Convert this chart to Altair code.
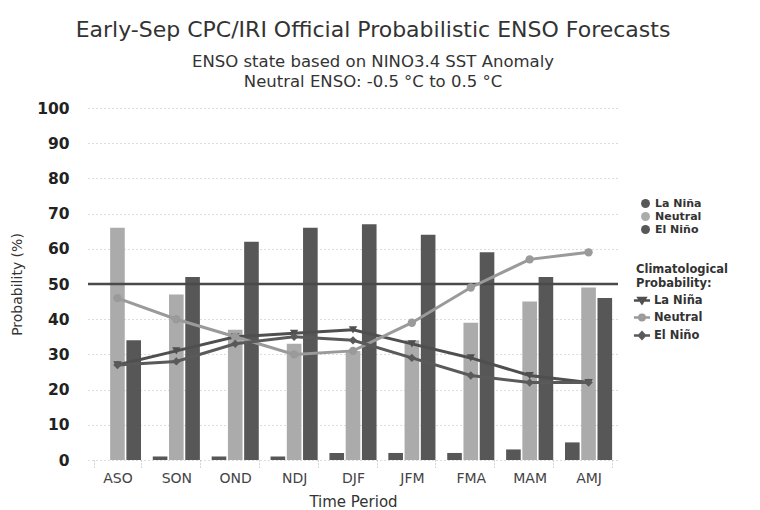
import altair as alt
import pandas as pd

periods = ["ASO", "SON", "OND", "NDJ", "DJF", "JFM", "FMA", "MAM", "AMJ"]
la_nina = [0, 1, 1, 1, 2, 2, 2, 3, 5]
neutral = [66, 47, 37, 33, 31, 34, 39, 45, 49]
el_nino = [34, 52, 62, 66, 67, 64, 59, 52, 46]
clim_la = [27, 31, 35, 36, 37, 33, 29, 24, 22]
clim_neu = [46, 40, 35, 30, 31, 39, 49, 57, 59]
clim_el = [27, 28, 33, 35, 34, 29, 24, 22, 22]
ref_level = [50]

cats = ["La Niña", "Neutral", "El Niño"]
bar_colors = ["#575757", "#ababab", "#575757"]
line_colors = ["#4f4f4f", "#9a9a9a", "#5a5a5a"]
marker_shapes = ["triangle-down", "circle", "diamond"]
legend_paths = [
    "M-1.8,0H1.8M-0.75,-0.55L0.75,-0.55L0,0.6Z",
    "M-1.8,0H1.8M0.6,0A0.6,0.6 0 1 1 -0.6,0A0.6,0.6 0 1 1 0.6,0Z",
    "M-1.8,0H1.8M0,-0.7L0.65,0L0,0.7L-0.65,0Z",
]

bars = pd.DataFrame(
    [{"period": p, "cat": c, "value": v}
     for c, vals in zip(cats, [la_nina, neutral, el_nino])
     for p, v in zip(periods, vals)]
)
lines = pd.DataFrame(
    [{"period": p, "clim": c, "value": v}
     for c, vals in zip(cats, [clim_la, clim_neu, clim_el])
     for p, v in zip(periods, vals)]
)
ref = pd.DataFrame({"value": ref_level})

FONT = "DejaVu Sans"

x = alt.X("period:N", sort=periods, title="Time Period",
          scale=alt.Scale(paddingInner=0.2, paddingOuter=0.1),
          axis=alt.Axis(labelAngle=0, labelFontSize=14, labelColor="#444",
                        titleFontSize=15, titleColor="#333", titleFontWeight="normal",
                        titlePadding=9, ticks=True, tickBand="extent", tickSize=8,
                        tickColor="#aaaaaa", tickDash=[1, 2], domain=False,
                        labelPadding=3, grid=False, labelFont=FONT, titleFont=FONT))
y = alt.Y("value:Q", title="Probability (%)",
          scale=alt.Scale(domain=[0, 100], nice=False),
          axis=alt.Axis(values=list(range(0, 101, 10)), labelOverlap=False,
                        labelFontSize=15.5, labelColor="#222", labelFontWeight="bold",
                        ticks=False, domain=False,
                        labelPadding=19, grid=True, gridColor="#bbbbbb",
                        gridDash=[1, 3], gridWidth=1,
                        titleFontSize=14, titleColor="#333", titleFontWeight="normal",
                        titlePadding=12, labelFont=FONT, titleFont=FONT))

bar_layer = alt.Chart(bars).mark_bar().encode(
    x=x,
    y=y,
    xOffset=alt.XOffset("cat:N", sort=cats, scale=alt.Scale(paddingInner=0.1)),
    fill=alt.Fill("cat:N", sort=cats,
                  scale=alt.Scale(domain=cats, range=bar_colors),
                  legend=alt.Legend(title=None, orient="none", legendX=552, legendY=90,
                                    symbolType="circle", symbolSize=80,
                                    labelFontSize=11, labelFontWeight="bold",
                                    labelColor="#333", labelFont=FONT, rowPadding=1)),
)

ref_layer = alt.Chart(ref).mark_rule(color="#4a4a4a", strokeWidth=2.5).encode(y=y)

line_layer = alt.Chart(lines).mark_line(strokeWidth=3).encode(
    x=x,
    y=y,
    stroke=alt.Stroke("clim:N", sort=cats,
                      scale=alt.Scale(domain=cats, range=line_colors), legend=None),
)

point_layers = [
    alt.Chart(lines).transform_filter(alt.datum.clim == c)
    .mark_point(filled=True, size=70, color=col, shape=shp, opacity=1)
    .encode(x=x, y=y)
    for c, col, shp in zip(cats, line_colors, marker_shapes)
]

legend_layer = alt.Chart(lines).mark_point(filled=False, opacity=0, strokeWidth=2.5).encode(
    x=x,
    y=y,
    color=alt.Color("clim:N", sort=cats, scale=alt.Scale(domain=cats, range=line_colors),
                    legend=alt.Legend(title=["Climatological", "Probability:"],
                                      orient="none", legendX=548, legendY=156,
                                      titleFontSize=11.5, titleFontWeight="bold",
                                      titleColor="#333", titleFont=FONT, titleLineHeight=14,
                                      labelFontSize=11.5, labelFontWeight="bold",
                                      labelColor="#333", labelFont=FONT,
                                      symbolSize=80, symbolStrokeWidth=2.5,
                                      symbolOpacity=1, rowPadding=1, labelOffset=6)),
    shape=alt.Shape("clim:N", sort=cats, scale=alt.Scale(domain=cats, range=legend_paths)),
)

chart = alt.layer(bar_layer, ref_layer, line_layer, *point_layers, legend_layer).resolve_scale(
    fill="independent", stroke="independent"
).properties(
    width=530,
    height=352,
    autosize=alt.AutoSizeParams(type="none"),
    padding={"left": 80, "top": 100, "right": 130, "bottom": 50},
    title=alt.Title(
        "Early-Sep CPC/IRI Official Probabilistic ENSO Forecasts",
        subtitle=["ENSO state based on NINO3.4 SST Anomaly",
                  "Neutral ENSO: -0.5 °C to 0.5 °C"],
        fontSize=22, font=FONT, fontWeight="normal", color="#333",
        subtitleFontSize=16.5, subtitleFont=FONT, subtitleColor="#333",
        subtitleLineHeight=20,
        subtitlePadding=12, offset=10, anchor="middle", dx=20,
    ),
).configure_view(stroke=None)

chart.save("out.html", embed_options={"renderer": "svg", "actions": False})
